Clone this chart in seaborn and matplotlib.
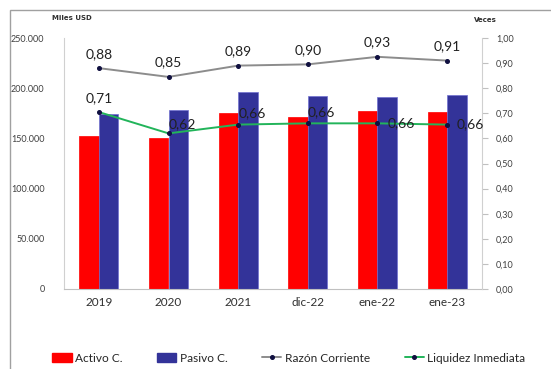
import numpy as np
import pandas as pd
import matplotlib
matplotlib.use('Agg')
import matplotlib.pyplot as plt
import seaborn as sns
from matplotlib.lines import Line2D
from matplotlib.patches import Patch, Rectangle

# Datos
periodos = ['2019', '2020', '2021', 'dic-22', 'ene-22', 'ene-23']
activo = [152400, 150100, 175000, 171600, 177600, 176300]
pasivo = [174000, 178300, 196200, 192200, 191200, 193500]
razon_corriente = [0.88, 0.845, 0.89, 0.895, 0.925, 0.91]
liquidez = [0.705, 0.62, 0.655, 0.66, 0.66, 0.655]

razon_txt = ['0,88', '0,85', '0,89', '0,90', '0,93', '0,91']
liq_txt = ['0,71', '0,62', '0,66', '0,66', '0,66', '0,66']

df = pd.DataFrame({
    'Periodo': periodos * 2,
    'Serie': ['Activo C.'] * 6 + ['Pasivo C.'] * 6,
    'Valor': activo + pasivo,
})

sns.set_style('white')
plt.rcParams['font.family'] = ['Lato', 'DejaVu Sans']

rojo = '#FF0000'
azul = '#333399'
gris = '#8C8C8C'
verde = '#22B45A'
punto = '#101040'

fig = plt.figure(figsize=(5.51, 3.69), dpi=100)
ax = fig.add_axes([64 / 551, 1 - 289 / 369, 418 / 551, 251 / 369])

sns.barplot(data=df, x='Periodo', y='Valor', hue='Serie', palette=[rojo, azul],
            width=0.56, ax=ax, legend=False, saturation=1)
for bar, ec in zip(ax.patches, [rojo] * 6 + ['#7070d0'] * 6):
    bar.set_edgecolor(ec)
    bar.set_linewidth(0.5)

ax.set_xlim(-0.5, 5.5)
ax.set_ylim(0, 250000)
ax.set_yticks(np.arange(0, 250001, 50000))
ax.set_yticklabels([f'{int(v):,}'.replace(',', '.') for v in np.arange(0, 250001, 50000)],
                   fontsize=6.5, color='#404040')
ax.tick_params(axis='x', labelsize=8.5, colors='#303030', length=0, pad=6)
ax.tick_params(axis='y', length=0, pad=14)
ax.set_xlabel('')
ax.set_ylabel('')
for s in ['top', 'right']:
    ax.spines[s].set_visible(False)
ax.spines['left'].set_color('#D0D0D0')
ax.spines['bottom'].set_color('#C0C0C0')

ax2 = ax.twinx()
x = np.arange(len(periodos))
sns.lineplot(x=x, y=razon_corriente, ax=ax2, color=gris, lw=1.4)
ax2.plot(x, razon_corriente, ls='none', marker='o', ms=2.6, color=punto)
sns.lineplot(x=x, y=liquidez, ax=ax2, color=verde, lw=1.4)
ax2.plot(x, liquidez, ls='none', marker='o', ms=2.6, color=punto)

ax2.set_ylim(0, 1.0)
ticks2 = np.arange(0, 1.01, 0.1)
ax2.set_yticks(ticks2)
ax2.set_yticklabels([f'{t:.2f}'.replace('.', ',') for t in ticks2], fontsize=6.5, color='#404040')
ax2.tick_params(axis='y', length=4, color='#C0C0C0', pad=6)
for s in ['top', 'left', 'bottom']:
    ax2.spines[s].set_visible(False)
ax2.spines['right'].set_color('#D0D0D0')

for xi, v, t in zip(x, razon_corriente, razon_txt):
    ax2.annotate(t, (xi, v), xytext=(0, 6), textcoords='offset points',
                 ha='center', va='bottom', fontsize=10, color='#202020')

liq_off = [(0, 6, 'center', 'bottom'), (0, 2, 'left', 'bottom'), (0, 4, 'left', 'bottom'),
           (0, 4, 'left', 'bottom'), (7, 0, 'left', 'center'), (7, 0, 'left', 'center')]
for xi, v, t, (dx, dy, ha, va) in zip(x, liquidez, liq_txt, liq_off):
    ax2.annotate(t, (xi, v), xytext=(dx, dy), textcoords='offset points',
                 ha=ha, va=va, fontsize=10, color='#202020')

fig.text(72 / 551, 1 - 18 / 369, 'Miles USD', fontsize=5, fontweight='bold',
         family='DejaVu Sans', ha='center', va='center', color='#303030')
fig.text(485 / 551, 1 - 20 / 369, 'Veces', fontsize=5, fontweight='bold',
         family='DejaVu Sans', ha='center', va='center', color='#303030')

# borde exterior
fig.patches.append(Rectangle((10 / 551, -0.01), 1.2, 1 - 10 / 369 + 0.01, transform=fig.transFigure,
                             fill=False, edgecolor='#A0A0A0', lw=1))

handles = [
    Patch(facecolor=rojo, edgecolor=rojo),
    Patch(facecolor=azul, edgecolor=azul),
    Line2D([0], [0], color=gris, marker='o', ms=2.6, mfc=punto, mec=punto, lw=1.4),
    Line2D([0], [0], color=verde, marker='o', ms=2.6, mfc=punto, mec=punto, lw=1.4),
]
labels = ['Activo C.', 'Pasivo C.', 'Razón Corriente', 'Liquidez Inmediata']
fig.legend(handles, labels, loc='center', bbox_to_anchor=(289 / 551, 1 - 358 / 369), ncol=4,
           frameon=False, fontsize=8.6, handlelength=1.6, handletextpad=0.3, columnspacing=2.9)

fig.savefig('out.png', dpi=100)
